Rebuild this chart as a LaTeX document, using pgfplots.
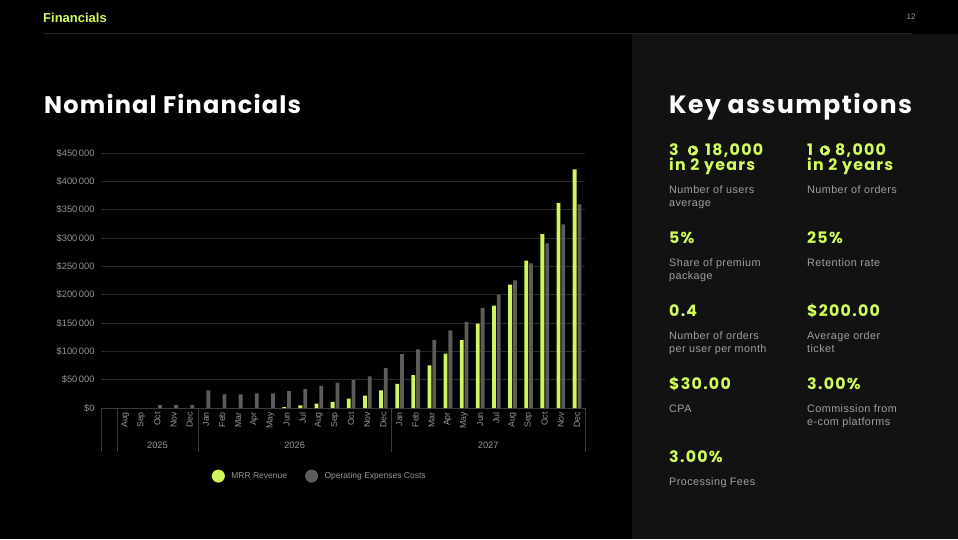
\documentclass[border=0pt]{standalone}
\usepackage{fontspec}
\setmainfont{Liberation Sans}
\newfontfamily\headw{Poppins}[LetterSpace=5]
\newfontfamily\headk{Poppins}[LetterSpace=6]
\newfontfamily\valw{Poppins}[LetterSpace=8]
\newfontfamily\bodyw{Liberation Sans}[LetterSpace=4]
\usepackage{pgfplots}
\pgfplotsset{compat=1.18}
\definecolor{lime}{RGB}{208,252,92}
\definecolor{barlime}{RGB}{208,246,92}
\definecolor{bargray}{RGB}{92,92,92}
\definecolor{gridc}{RGB}{42,42,42}
\definecolor{axisc}{RGB}{58,58,58}
\definecolor{tickc}{RGB}{150,150,150}
\definecolor{panel}{RGB}{18,18,18}
\definecolor{bodyc}{RGB}{160,160,160}
\definecolor{rulec}{RGB}{34,34,34}
\begin{document}
\begin{tikzpicture}[x=1pt,y=1pt]
\useasboundingbox (0,0) rectangle (958,539);
\fill[black] (0,0) rectangle (958,539);
\fill[panel] (632,0) rectangle (958,505);
\draw[rulec, line width=0.8pt] (44,506) -- (912,506);
\node[anchor=base west, inner sep=0, font=\bfseries\fontsize{13}{14}\selectfont, text=lime] at (43,516.3) {Financials};
\node[anchor=base, inner sep=0, font=\fontsize{8}{9}\selectfont, text=bodyc] at (911,519) {12};
\node[anchor=base west, inner sep=0, font=\headw\bfseries\fontsize{24}{26}\selectfont, text=white] at (44,425) {Nominal Financials};
\node[anchor=base west, inner sep=0, font=\headk\bfseries\fontsize{25}{27}\selectfont, text=white] at (669,425) {Key assumptions};
% key assumptions
\tikzset{val/.style={anchor=base west, inner sep=0, font=\valw\bfseries\fontsize{15.8}{17}\selectfont, text=lime},
 body/.style={anchor=base west, inner sep=0, font=\bodyw\fontsize{10.8}{12.7}\selectfont, text=bodyc, align=left}}
\node[val] at (669,383) {3};
\fill[lime] (693,388.5) circle (5.2pt);
\fill[black] (691.2,391.3) -- (695.4,388.5) -- (691.2,385.7) -- cycle;
\node[val] at (705,383) {18,000};
\node[val] at (669,368) {in 2 years};
\node[body] at (669,345) {Number of users};
\node[body] at (669,332.3) {average};
\node[val] at (807,383) {1};
\fill[lime] (825,388.5) circle (5.2pt);
\fill[black] (823.2,391.3) -- (827.4,388.5) -- (823.2,385.7) -- cycle;
\node[val] at (835,383) {8,000};
\node[val] at (807,368) {in 2 years};
\node[body] at (807,345) {Number of orders};
\node[val] at (669,295) {5\%};
\node[body] at (669,272.3) {Share of premium};
\node[body] at (669,259.6) {package};
\node[val] at (807,295) {25\%};
\node[body] at (807,272.3) {Retention rate};
\node[val] at (669,222.3) {0.4};
\node[body] at (669,199.7) {Number of orders};
\node[body] at (669,187) {per user per month};
\node[val] at (807,222.3) {\$200.00};
\node[body] at (807,199.7) {Average order};
\node[body] at (807,187) {ticket};
\node[val] at (669,149.7) {\$30.00};
\node[body] at (669,126.7) {CPA};
\node[val] at (807,149.7) {3.00\%};
\node[body] at (807,126.7) {Commission from};
\node[body] at (807,114) {e-com platforms};
\node[val] at (669,76.7) {3.00\%};
\node[body] at (669,54) {Processing Fees};
% chart
\begin{axis}[
  at={(101pt,131pt)}, anchor=south west,
  scale only axis, width=484pt, height=255pt,
  xmin=-0.5, xmax=29.5, ymin=0, ymax=450000,
  axis x line*=bottom, axis y line*=left,
  y axis line style={draw=none},
  x axis line style={draw=axisc, line width=0.6pt},
  major tick length=0,
  xtick={1,...,29},
  xticklabels={Aug,Sep,Oct,Nov,Dec,Jan,Feb,Mar,Apr,May,Jun,Jul,Aug,Sep,Oct,Nov,Dec,Jan,Feb,Mar,Apr,May,Jun,Jul,Aug,Sep,Oct,Nov,Dec},
  xticklabel style={rotate=90, anchor=east, font=\fontsize{8.8}{9}\selectfont, text=tickc, inner sep=0pt},
  xticklabel shift=4pt,
  ytick={0,50000,100000,150000,200000,250000,300000,350000,400000,450000},
  yticklabels={\$0,\$50\,000,\$100\,000,\$150\,000,\$200\,000,\$250\,000,\$300\,000,\$350\,000,\$400\,000,\$450\,000},
  yticklabel style={font=\fontsize{9.3}{10}\selectfont, text=tickc, xshift=-3pt},
  scaled y ticks=false,
  ymajorgrids, grid style={gridc, line width=0.6pt},
  clip=false,
  legend style={at={(0.452,-0.267)}, anchor=center, draw=none, fill=none,
    legend columns=2, font=\fontsize{8.5}{10}\selectfont, text=tickc,
    /tikz/every even column/.append style={column sep=16pt}},
  legend cell align=left,
]
\addplot[ybar, bar width=3.8pt, bar shift=-2.3pt, fill=barlime, draw=none,
  legend image code/.code={\fill[barlime] (0pt,0pt) circle (6.5pt); \path[fill=none,draw=none] (-6.5pt,-6.5pt) rectangle (11pt,6.5pt);}]
 coordinates {(11,1500) (12,4800) (13,7600) (14,11000) (15,16500) (16,21700) (17,31200)
  (18,42400) (19,58000) (20,75300) (21,96000) (22,120000) (23,149000) (24,180500)
  (25,217600) (26,260000) (27,307000) (28,361800) (29,421200)};
\addlegendentry{MRR Revenue}
\addplot[ybar, bar width=3.8pt, bar shift=2.5pt, fill=bargray, draw=none,
  legend image code/.code={\fill[bargray] (0pt,0pt) circle (6.5pt); \path[fill=none,draw=none] (-6.5pt,-6.5pt) rectangle (11pt,6.5pt);}]
 coordinates {(3,5000) (4,5000) (5,5000) (6,31000) (7,24000) (8,24000) (9,26000) (10,26000)
  (11,30000) (12,33500) (13,39000) (14,45000) (15,49500) (16,56000) (17,71000)
  (18,95000) (19,103500) (20,120000) (21,137000) (22,152000) (23,176500) (24,200000)
  (25,225300) (26,255300) (27,290600) (28,324000) (29,359500)};
\addlegendentry{Operating Expenses Costs}
\draw[axisc, line width=0.6pt] (axis cs:-0.5,0) -- ([yshift=-44pt]axis cs:-0.5,0);
\draw[axisc, line width=0.6pt] (axis cs:0.5,0) -- ([yshift=-44pt]axis cs:0.5,0);
\draw[axisc, line width=0.6pt] (axis cs:5.5,0) -- ([yshift=-44pt]axis cs:5.5,0);
\draw[axisc, line width=0.6pt] (axis cs:17.5,0) -- ([yshift=-44pt]axis cs:17.5,0);
\draw[axisc, line width=0.6pt] (axis cs:29.5,0) -- ([yshift=-44pt]axis cs:29.5,0);
\node[font=\fontsize{9.3}{10}\selectfont, text=tickc] at ([yshift=-37pt]axis cs:3,0) {2025};
\node[font=\fontsize{9.3}{10}\selectfont, text=tickc] at ([yshift=-37pt]axis cs:11.5,0) {2026};
\node[font=\fontsize{9.3}{10}\selectfont, text=tickc] at ([yshift=-37pt]axis cs:23.5,0) {2027};
\end{axis}
\end{tikzpicture}
\end{document}
